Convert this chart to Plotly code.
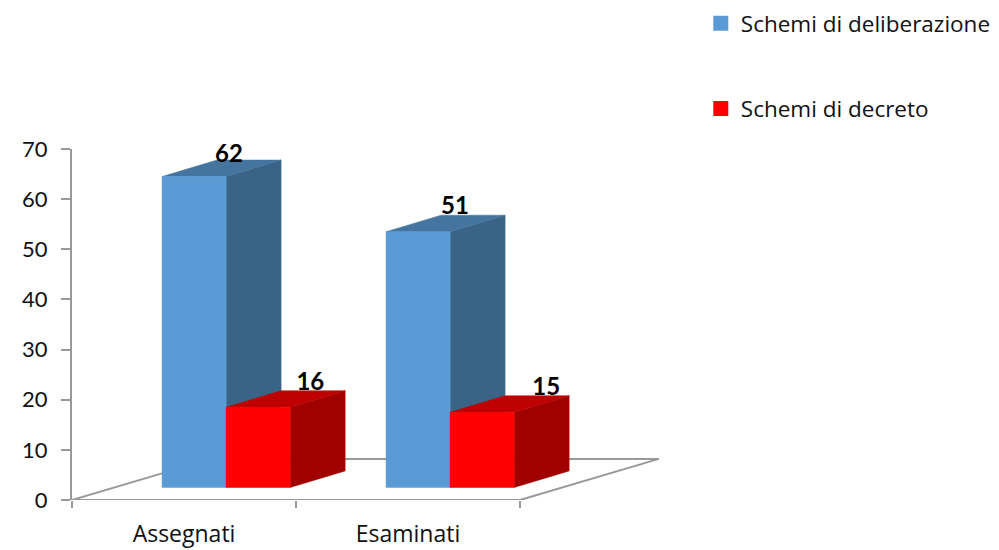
import plotly.graph_objects as go

# Chart data
categories = ["Assegnati", "Esaminati"]
series_names = ["Schemi di deliberazione", "Schemi di decreto"]
deliberazione = [62, 51]
decreto = [16, 15]

# Palette: front, side and top faces of each box
blue_faces = ("#5B9BD5", "#3A6486", "#44749F")
red_faces = ("#FF0000", "#A00000", "#BF0000")
axis_grey = "#999999"
text_color = "#111111"
font_family = "'Open Sans', sans-serif"
label_family = "Lato, sans-serif"

# Pseudo-perspective, in axis units
FLOOR_DX, FLOOR_DY = 0.62, 8.2
BAR_DX, BAR_DY = 0.2455, 3.3
BAR_LIFT = 2.5
BAR_WIDTH = 0.286
BAR_START = 0.402
X_MAX = 2.625

fig = go.Figure()

# Floor outline behind the boxes; its front edge is the category axis
fig.add_trace(go.Scatter(
    x=[0, FLOOR_DX, 2 + FLOOR_DX, 2, 0],
    y=[0, FLOOR_DY, FLOOR_DY, 0, 0],
    mode="lines", line=dict(color=axis_grey, width=2),
    cliponaxis=False, showlegend=False, hoverinfo="skip",
))


def face(xs, ys, color, name):
    fig.add_trace(go.Scatter(
        x=xs, y=ys, mode="lines", fill="toself", fillcolor=color,
        line=dict(color=color, width=0.5), cliponaxis=False,
        showlegend=False, name=name, hoverinfo="name+y",
    ))


def box(left, value, colors, name):
    right = left + BAR_WIDTH
    top = BAR_LIFT + value
    # side, top, then front so that nearer faces paint last
    face([right, right + BAR_DX, right + BAR_DX, right, right],
         [BAR_LIFT, BAR_LIFT + BAR_DY, top + BAR_DY, top, BAR_LIFT], colors[1], name)
    face([left, left + BAR_DX, right + BAR_DX, right, left],
         [top, top + BAR_DY, top + BAR_DY, top, top], colors[2], name)
    face([left, right, right, left, left],
         [BAR_LIFT, BAR_LIFT, top, top, BAR_LIFT], colors[0], name)


for i in range(len(categories)):
    box(i + BAR_START, deliberazione[i], blue_faces, series_names[0])
    box(i + BAR_START + BAR_WIDTH, decreto[i], red_faces, series_names[1])

# Value labels above the back edge of each box
label_shift_x = [[0.156, 0.165], [0.233, 0.286]]
label_shift_y = [[0.9, 1.5], [1.3, 1.3]]
for s, (values, start) in enumerate(((deliberazione, BAR_START),
                                     (decreto, BAR_START + BAR_WIDTH))):
    fig.add_trace(go.Scatter(
        x=[i + start + BAR_WIDTH / 2 + label_shift_x[s][i] for i in range(len(values))],
        y=[BAR_LIFT + v + BAR_DY + label_shift_y[s][i] for i, v in enumerate(values)],
        mode="text", text=[str(v) for v in values], textposition="middle center",
        textfont=dict(family=label_family, size=24, color="#000000",
                      weight="bold"),
        cliponaxis=False, showlegend=False, hoverinfo="skip",
    ))

# Legend keys
for name, colors in zip(series_names, (blue_faces, red_faces)):
    fig.add_trace(go.Scatter(
        x=[None], y=[None], mode="markers", name=name, legendgroup=name,
        marker=dict(symbol="square", size=15, color=colors[0]),
    ))

fig.update_layout(
    width=999, height=550, autosize=False,
    margin=dict(l=0, r=0, t=0, b=0, autoexpand=False),
    paper_bgcolor="white", plot_bgcolor="rgba(0,0,0,0)",
    font=dict(family=font_family, color=text_color, size=23),
    legend=dict(x=0.7015, y=0.996, xanchor="left", yanchor="top",
                tracegroupgap=53, font=dict(size=22.5, color=text_color),
                bgcolor="rgba(0,0,0,0)", itemsizing="trace"),
    xaxis=dict(
        domain=[72 / 999, 660 / 999], range=[0, X_MAX], showgrid=False, zeroline=False,
        showline=False,
        tickmode="array", tickvals=[0.5, 1.5], ticktext=categories, ticks="",
        ticklabelstandoff=18,
        minor=dict(tickmode="array", tickvals=[0, 1, 2], ticks="outside",
                   ticklen=7, tickcolor=axis_grey, tickwidth=2, showgrid=False),
    ),
    yaxis=dict(
        domain=[50 / 550, 401 / 550], range=[0, 70], showgrid=False, zeroline=False,
        showline=True, linecolor=axis_grey, linewidth=2,
        tickmode="array", tickvals=list(range(0, 71, 10)), ticks="outside",
        ticklen=9, tickcolor=axis_grey, tickwidth=2, ticklabelstandoff=9,
        tickfont=dict(family=label_family, size=22),
    ),
)

fig.write_html("out.html", config=dict(displayModeBar=False))
